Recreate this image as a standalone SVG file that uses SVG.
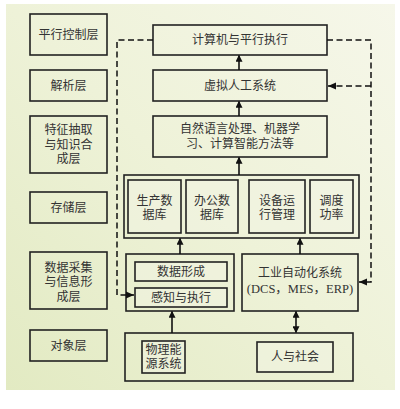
<svg xmlns="http://www.w3.org/2000/svg" width="400" height="409" viewBox="0 0 400 409">
<defs>
<linearGradient id="bg" x1="1" y1="0" x2="0" y2="1">
<stop offset="0" stop-color="#f6f7ea"/>
<stop offset="0.5" stop-color="#eef2d8"/>
<stop offset="1" stop-color="#e2eac2"/>
</linearGradient>
<marker id="ah" viewBox="0 0 10 10" refX="9" refY="5" markerWidth="7" markerHeight="7" markerUnits="userSpaceOnUse" orient="auto-start-reverse">
<path d="M0,0 L10,5 L0,10 Z" fill="#111"/>
</marker>
<style>
.box{fill:none;stroke:#222;stroke-width:1.6}
.inner{fill:#f2f4e4;fill-opacity:0.5;stroke:#222;stroke-width:1.6}
.t{font-family:"Liberation Serif","Noto Sans CJK SC",serif;font-size:12px;fill:#333;text-anchor:middle;dominant-baseline:central}
.e{font-family:"Liberation Serif","Noto Sans CJK SC",serif;font-size:12.5px;fill:#333;text-anchor:middle;dominant-baseline:central}
.a{stroke:#111;stroke-width:1.6;fill:none}
.d{stroke:#111;stroke-width:1.5;fill:none;stroke-dasharray:6 3.5}
</style>
</defs>
<rect x="6" y="4" width="389" height="386" fill="url(#bg)"/>

<g id="layer-control"><rect class="box" x="30" y="14" width="77" height="41"/><text class="t" x="68.5" y="35">平行控制层</text></g>
<g id="layer-parse"><rect class="box" x="30" y="70" width="77" height="31"/><text class="t" x="68.5" y="86">解析层</text></g>
<g id="layer-feature"><rect class="box" x="30" y="116" width="77" height="57"/><text class="t"><tspan x="68.5" y="130">特征抽取</tspan><tspan x="68.5" y="144.5">与知识合</tspan><tspan x="68.5" y="159">成层</tspan></text></g>
<g id="layer-storage"><rect class="box" x="30" y="192" width="77" height="31"/><text class="t" x="68.5" y="208">存储层</text></g>
<g id="layer-collect"><rect class="box" x="30" y="252" width="77" height="57"/><text class="t"><tspan x="68.5" y="267.5">数据采集</tspan><tspan x="68.5" y="282">与信息形</tspan><tspan x="68.5" y="296.5">成层</tspan></text></g>
<g id="layer-object"><rect class="box" x="30" y="330" width="77" height="31"/><text class="t" x="68.5" y="346">对象层</text></g>

<g id="computer"><rect class="box" x="153" y="25" width="174" height="30"/><text class="t" x="240" y="40">计算机与平行执行</text></g>
<g id="virtual"><rect class="box" x="153" y="70" width="174" height="31"/><text class="t" x="240" y="86">虚拟人工系统</text></g>
<g id="nlp"><rect class="box" x="153" y="116" width="174" height="41"/><text class="t"><tspan x="240" y="129">自然语言处理、机器学</tspan><tspan x="240" y="144">习、计算智能方法等</tspan></text></g>

<g id="storage"><rect class="box" x="124" y="175" width="235" height="63"/>
<g id="db-production"><rect class="inner" x="128" y="180" width="53" height="53"/><text class="t"><tspan x="154.5" y="201">生产数</tspan><tspan x="154.5" y="215">据库</tspan></text></g>
<g id="db-office"><rect class="inner" x="186" y="180" width="52" height="53"/><text class="t"><tspan x="212" y="201">办公数</tspan><tspan x="212" y="215">据库</tspan></text></g>
<g id="equipment"><rect class="inner" x="249" y="180" width="56" height="53"/><text class="t"><tspan x="277" y="201">设备运</tspan><tspan x="277" y="215">行管理</tspan></text></g>
<g id="dispatch"><rect class="inner" x="310" y="180" width="43" height="53"/><text class="t"><tspan x="331.5" y="201">调度</tspan><tspan x="331.5" y="215">功率</tspan></text></g>
</g>

<g id="collect"><rect class="box" x="126" y="254" width="108" height="57"/>
<g id="data-form"><rect class="inner" x="135" y="262" width="92" height="19"/><text class="t" x="181" y="271.5">数据形成</text></g>
<g id="sense"><rect class="inner" x="135" y="288" width="92" height="19"/><text class="t" x="181" y="297.5">感知与执行</text></g>
</g>

<g id="industrial"><rect class="box" x="242" y="254" width="116" height="57"/><text class="t"><tspan x="300" y="273">工业自动化系统</tspan><tspan class="e" x="300" y="289">(DCS，MES，ERP)</tspan></text></g>

<g id="object"><rect class="box" x="125" y="333" width="228" height="48"/>
<g id="energy"><rect class="inner" x="142" y="341" width="43" height="32"/><text class="t"><tspan x="163.5" y="350">物理能</tspan><tspan x="163.5" y="364">源系统</tspan></text></g>
<g id="society"><rect class="inner" x="257" y="342" width="76" height="30"/><text class="t" x="295" y="357">人与社会</text></g>
</g>

<g id="connectors">
<line class="a" x1="239" y1="70" x2="239" y2="55.5" marker-end="url(#ah)"/>
<line class="a" x1="239" y1="116" x2="239" y2="101.5" marker-end="url(#ah)"/>
<line class="a" x1="239" y1="175" x2="239" y2="157.5" marker-end="url(#ah)"/>
<line class="a" x1="180" y1="254" x2="180" y2="238.5" marker-end="url(#ah)"/>
<line class="a" x1="300" y1="254" x2="300" y2="238.5" marker-end="url(#ah)"/>
<line class="a" x1="172" y1="333" x2="172" y2="311.5" marker-end="url(#ah)"/>
<line class="a" x1="296" y1="311.5" x2="296" y2="332.5" marker-start="url(#ah)" marker-end="url(#ah)"/>
<path class="d" d="M153,40 H117 V295 H134"/>
<path class="d" d="M327,40 H371 V282 H359"/>
<path class="d" d="M371,86 H328"/>
<path d="M134,295 l-8,-3.5 v7 z" fill="#111"/>
<path d="M359,282 l8,-3.5 v7 z" fill="#111"/>
<path d="M328,86 l8,-3.5 v7 z" fill="#111"/>
</g>
</svg>
